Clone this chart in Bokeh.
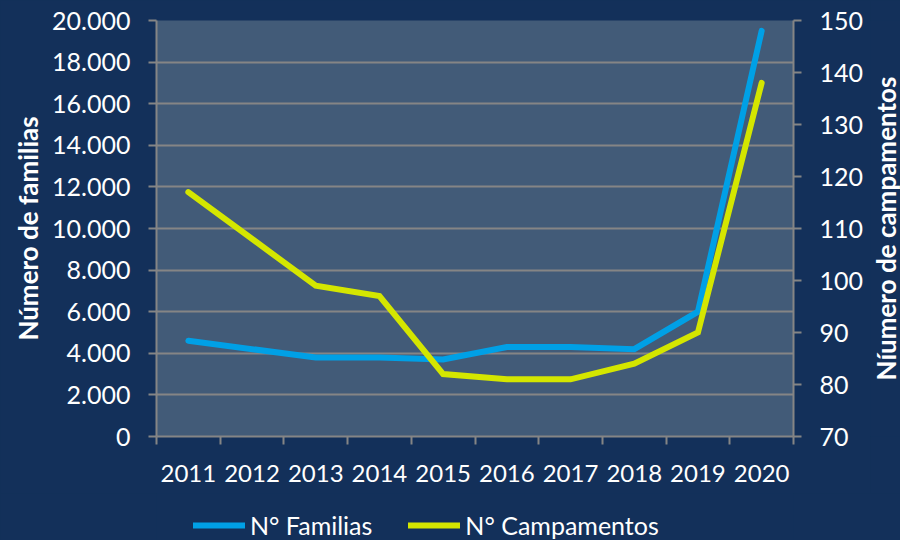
import math
from bokeh.plotting import figure
from bokeh.layouts import column, row
from bokeh.models import Range1d, LinearAxis, FixedTicker, Legend, LegendItem, Grid, Label
from bokeh.embed import file_html
from bokeh.resources import INLINE

# ---- data ----
years = [2011, 2012, 2013, 2014, 2015, 2016, 2017, 2018, 2019, 2020]
data_years = [2011, 2013, 2014, 2015, 2016, 2017, 2018, 2019, 2020]
familias = [4600, 3800, 3800, 3700, 4300, 4300, 4200, 6000, 19500]
campamentos = [117, 99, 97, 82, 81, 81, 84, 90, 138]
left_ticks = [0, 2000, 4000, 6000, 8000, 10000, 12000, 14000, 16000, 18000, 20000]
right_ticks = [70, 80, 90, 100, 110, 120, 130, 140, 150]
series_names = ["N° Familias", "N° Campamentos"]
left_title = "Número de familias"
right_title = "Níumero de campamentos"

BG = "#13305A"
PLOT_BG = "#425B78"
GRID = "#858585"
BLUE = "#00A0E6"
YELLOW = "#D4E600"
WHITE = "#FFFFFF"
FONT = "Lato"
HOST = {"background-color": BG}

xpos = [years.index(y) + 0.5 for y in data_years]

# ---- main chart ----
p = figure(width=870, height=493, output_backend="svg", toolbar_location=None,
           x_range=Range1d(0, len(years)), y_range=Range1d(left_ticks[0], left_ticks[-1]),
           x_axis_type=None, y_axis_type=None,
           min_border_left=156, min_border_right=77, min_border_top=20, min_border_bottom=57)
p.frame_width = 637
p.frame_height = 416
p.background_fill_color = PLOT_BG
p.border_fill_color = BG
p.outline_line_color = None
p.styles = HOST
p.extra_y_ranges = {"camp": Range1d(right_ticks[0], right_ticks[-1])}

lt = FixedTicker(ticks=left_ticks)
p.add_layout(Grid(dimension=1, ticker=lt, grid_line_color=GRID, grid_line_width=2))

def style(ax, size):
    ax.axis_line_color = GRID
    ax.axis_line_width = 2
    ax.major_tick_line_color = GRID
    ax.major_tick_line_width = 2
    ax.major_tick_out = 8
    ax.major_tick_in = 0
    ax.minor_tick_line_color = None
    ax.major_label_text_color = WHITE
    ax.major_label_text_font = FONT
    ax.major_label_text_font_size = size
    ax.axis_label_text_color = WHITE
    ax.axis_label_text_font = FONT
    ax.axis_label_text_font_style = "bold"
    ax.axis_label_text_font_size = "26px"

centers = [i + 0.5 for i in range(len(years))]
xt = FixedTicker(ticks=centers, minor_ticks=list(range(len(years) + 1)))
xa = LinearAxis(ticker=xt, major_label_overrides={c: str(y) for c, y in zip(centers, years)})
style(xa, "24px")
xa.major_tick_line_color = None
xa.minor_tick_line_color = GRID
xa.minor_tick_line_width = 2
xa.minor_tick_out = 8
xa.minor_tick_in = 0
xa.major_label_standoff = 20
p.add_layout(xa, "below")

la = LinearAxis(ticker=lt, axis_label=left_title,
                major_label_overrides={t: f"{t:,}".replace(",", ".") for t in left_ticks})
style(la, "25px")
la.major_label_standoff = 18
la.axis_label_standoff = 5
p.add_layout(la, "left")

ra = LinearAxis(y_range_name="camp", ticker=FixedTicker(ticks=right_ticks))
style(ra, "25px")
ra.major_label_standoff = 18
p.add_layout(ra, "right")

r1 = p.line(xpos, familias, line_color=BLUE, line_width=6, line_cap="round", line_join="miter")
r2 = p.line(xpos, campamentos, line_color=YELLOW, line_width=6, line_cap="round", line_join="miter",
            y_range_name="camp")

# ---- right-hand title strip (text reads bottom to top) ----
pr = figure(width=30, height=493, output_backend="svg", toolbar_location=None,
            x_range=Range1d(0, 1), y_range=Range1d(0, 1), x_axis_type=None, y_axis_type=None,
            min_border_left=0, min_border_right=0, min_border_top=20, min_border_bottom=57)
pr.background_fill_color = BG
pr.border_fill_color = BG
pr.outline_line_color = None
pr.styles = HOST
pr.add_layout(Label(x=0.5, y=0.5, text=right_title, angle=math.pi / 2,
                    text_align="center", text_baseline="middle",
                    text_color=WHITE, text_font=FONT, text_font_style="bold",
                    text_font_size="26px"))

# ---- legend strip ----
pl = figure(width=900, height=47, output_backend="svg", toolbar_location=None,
            x_range=Range1d(0, len(years)), y_range=Range1d(-2, -1),
            x_axis_type=None, y_axis_type=None,
            min_border_left=156, min_border_right=107, min_border_top=0, min_border_bottom=0)
pl.background_fill_color = BG
pl.border_fill_color = BG
pl.outline_line_color = None
pl.styles = HOST
d1 = pl.line(xpos, familias, line_color=BLUE, line_width=6, line_cap="round")
d2 = pl.line(xpos, campamentos, line_color=YELLOW, line_width=6, line_cap="round")
legend = Legend(items=[LegendItem(label=series_names[0], renderers=[d1]),
                       LegendItem(label=series_names[1], renderers=[d2])],
                orientation="horizontal", location=(37, 0),
                glyph_width=52, glyph_height=30, label_standoff=5, spacing=36,
                padding=0, margin=0, background_fill_alpha=0, border_line_color=None,
                label_text_color=WHITE, label_text_font=FONT, label_text_font_size="25px")
pl.add_layout(legend, "center")

top = row(p, pr, spacing=0)
top.styles = HOST
layout = column(top, pl, spacing=0)
layout.styles = HOST
html = file_html(layout, INLINE)
html = html.replace("<body>", '<body style="background-color:%s;overflow:hidden;">' % BG, 1)
open("out.html", "w").write(html)
